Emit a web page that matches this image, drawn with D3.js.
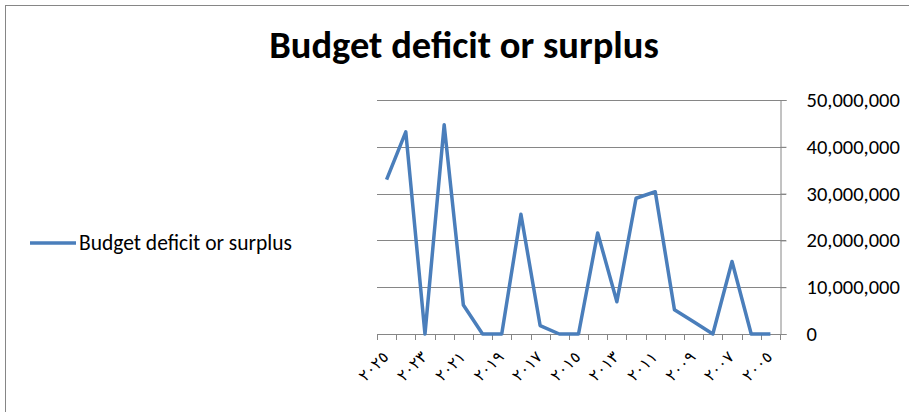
<!DOCTYPE html>
<html>
<head>
<meta charset="utf-8">
<script src="https://cdn.jsdelivr.net/npm/d3@7"></script>
<style>
  body { margin: 0; background: #fff; }
  svg { display: block; }
</style>
</head>
<body>
<script>
// datos (años de 2025 a 2005)
const years = ['٢٠٢٥','٢٠٢٤','٢٠٢٣','٢٠٢٢','٢٠٢١','٢٠٢٠','٢٠١٩','٢٠١٨','٢٠١٧','٢٠١٦','٢٠١٥',
               '٢٠١٤','٢٠١٣','٢٠١٢','٢٠١١','٢٠١٠','٢٠٠٩','٢٠٠٨','٢٠٠٧','٢٠٠٦','٢٠٠٥'];
const values = [33000000, 43200000, 0, 44700000, 6200000, 0, 0, 25600000, 1800000, 0, 0,
                21600000, 6900000, 29000000, 30400000, 5200000, 2600000, 0, 15500000, 0, 0];
const yTicks = [0, 10000000, 20000000, 30000000, 40000000, 50000000];
const seriesName = 'Budget deficit or surplus';

const width = 909;
const height = 412;
const plot = { left: 377, right: 780, top: 100, bottom: 334 };
const lineColor = '#4a7ebb';
const axisColor = '#868686';
const font = 'Carlito, "Open Sans", sans-serif';

const svg = d3.select('body').append('svg')
  .attr('width', width)
  .attr('height', height);

// borde del área del gráfico
svg.append('rect')
  .attr('x', 5.5).attr('y', 5.5)
  .attr('width', width + 10).attr('height', height + 10)
  .attr('fill', 'none')
  .attr('stroke', axisColor)
  .attr('stroke-width', 1);

const x = d3.scaleBand()
  .domain(years)
  .range([plot.left, plot.right])
  .padding(0);

const y = d3.scaleLinear()
  .domain([0, 50000000])
  .range([plot.bottom, plot.top]);

// líneas de cuadrícula
svg.append('g')
  .selectAll('line')
  .data(yTicks)
  .enter()
  .append('line')
  .attr('x1', plot.left)
  .attr('x2', plot.right + 6)
  .attr('y1', d => Math.round(y(d)) + 0.5)
  .attr('y2', d => Math.round(y(d)) + 0.5)
  .attr('stroke', axisColor);

// eje derecho
const yAxis = d3.axisRight(y)
  .tickValues(yTicks)
  .tickSize(6)
  .tickPadding(20)
  .tickFormat(d3.format(','));

const gy = svg.append('g')
  .attr('transform', `translate(${plot.right + 0.5},0)`)
  .call(yAxis);
gy.select('.domain').attr('stroke', axisColor);
gy.selectAll('.tick line').attr('stroke', axisColor);
gy.selectAll('.tick text')
  .attr('fill', '#000')
  .style('font-family', font)
  .style('font-size', '20.5px');

// eje inferior: marcas en los límites de cada categoría
const bounds = years.map(d => x(d)).concat([x.range()[1]]);
svg.append('line')
  .attr('x1', plot.left).attr('x2', plot.right)
  .attr('y1', plot.bottom + 0.5).attr('y2', plot.bottom + 0.5)
  .attr('stroke', axisColor);
svg.append('g')
  .selectAll('line')
  .data(bounds)
  .enter()
  .append('line')
  .attr('x1', d => Math.round(d) + 0.5)
  .attr('x2', d => Math.round(d) + 0.5)
  .attr('y1', plot.bottom)
  .attr('y2', plot.bottom + 6)
  .attr('stroke', axisColor);

// etiquetas de años (una de cada dos)
svg.append('g')
  .selectAll('text')
  .data(years.filter((d, i) => i % 2 === 0))
  .enter()
  .append('text')
  .attr('transform', d => `translate(${x(d) + x.bandwidth() / 2 + 3},${plot.bottom + 24}) rotate(-45)`)
  .attr('text-anchor', 'end')
  .attr('direction', 'ltr')
  .style('font-family', '"DejaVu Sans", sans-serif')
  .style('font-size', '16px')
  .attr('fill', '#000')
  .text(d => d);

// serie
const line = d3.line()
  .x((d, i) => x(years[i]) + x.bandwidth() / 2)
  .y(d => y(d));

svg.append('path')
  .datum(values)
  .attr('d', line)
  .attr('fill', 'none')
  .attr('stroke', lineColor)
  .attr('stroke-width', 3.5)
  .attr('stroke-linejoin', 'round');

// título
svg.append('text')
  .attr('x', 464)
  .attr('y', 58)
  .attr('text-anchor', 'middle')
  .style('font-family', font)
  .style('font-weight', 'bold')
  .style('font-size', '38.5px')
  .text(seriesName);

// leyenda
svg.append('line')
  .attr('x1', 30).attr('x2', 76)
  .attr('y1', 243).attr('y2', 243)
  .attr('stroke', lineColor)
  .attr('stroke-width', 3.5);
svg.append('text')
  .attr('x', 79)
  .attr('y', 250)
  .style('font-family', font)
  .style('font-size', '21.5px')
  .text(seriesName);
</script>
</body>
</html>
